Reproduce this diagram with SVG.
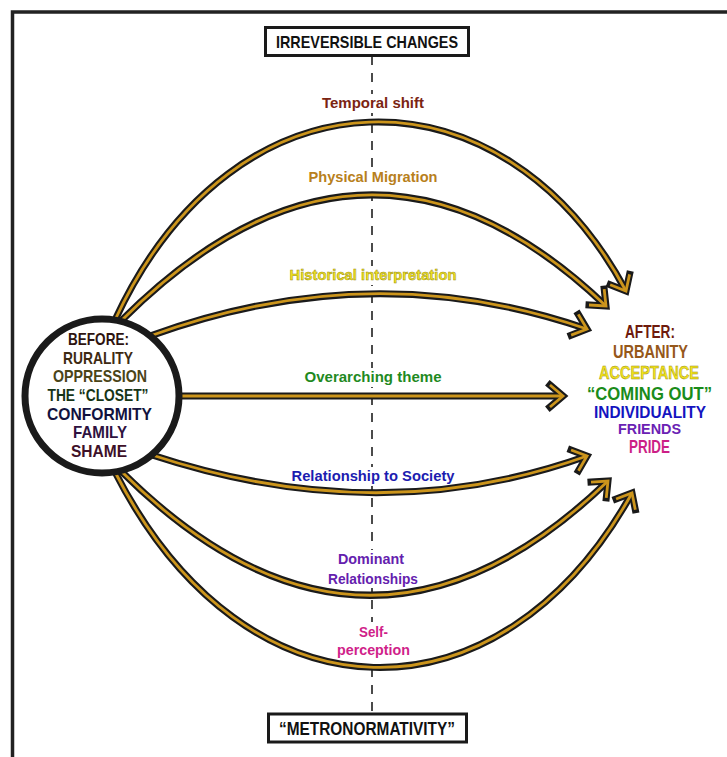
<svg xmlns="http://www.w3.org/2000/svg" width="727" height="757" viewBox="0 0 727 757">
<style>
.t{font-family:"Liberation Sans",Arial,sans-serif;font-weight:bold;text-anchor:middle}
.arcb{fill:none;stroke:#1a1a1a;stroke-width:7;marker-end:url(#ahb)}
.arcg{fill:none;stroke:#cc951c;stroke-width:2.8;marker-end:url(#ahg)}
.lab{font-size:15.5px}
.c{font-size:17px}
.box{fill:#fff;stroke:#1a1a1a;stroke-width:3}
</style>
<defs>
<marker id="ahb" markerUnits="userSpaceOnUse" markerWidth="40" markerHeight="40" viewBox="-20 -20 40 40" refX="0" refY="0" orient="auto" overflow="visible">
<path d="M-13,-11 L0,0 L-13,11" fill="none" stroke="#1a1a1a" stroke-width="7" stroke-linejoin="miter" stroke-linecap="square"/>
</marker>
<marker id="ahg" markerUnits="userSpaceOnUse" markerWidth="40" markerHeight="40" viewBox="-20 -20 40 40" refX="0" refY="0" orient="auto" overflow="visible">
<path d="M-13,-11 L0,0 L-13,11" fill="none" stroke="#cc951c" stroke-width="2.8" stroke-linejoin="miter" stroke-linecap="butt"/>
</marker>
</defs>
<rect width="727" height="757" fill="#fff"/>
<g id="frame" stroke="#222" stroke-width="3.5" fill="none">
<path d="M12.5,757 L12.5,12 L727,12"/>
</g>
<g id="connectors">
<path d="M372,56 L372,713" stroke="#111" stroke-width="1.5" stroke-dasharray="9 8" fill="none"/>
<g fill="#fff">
<rect x="320" y="94" width="106" height="19"/>
<rect x="306" y="168" width="134" height="19"/>
<rect x="288" y="266" width="170" height="19"/>
<rect x="302" y="368" width="142" height="19"/>
<rect x="290" y="467" width="166" height="19"/>
<rect x="326" y="550" width="94" height="38"/>
<rect x="334" y="622" width="80" height="38"/>
</g>
<path class="arcb" d="M115,320 C235,61 503,61 626,291"/>
<path class="arcg" d="M115,320 C235,61 503,61 626,291"/>
<path class="arcb" d="M122,320 Q366,77 606,306"/>
<path class="arcg" d="M122,320 Q366,77 606,306"/>
<path class="arcb" d="M150,336 Q372,255 587,329"/>
<path class="arcg" d="M150,336 Q372,255 587,329"/>
<path class="arcb" d="M170,396 L563,396"/>
<path class="arcg" d="M170,396 L563,396"/>
<path class="arcb" d="M152,455 Q380,530 587,456"/>
<path class="arcg" d="M152,455 Q380,530 587,456"/>
<path class="arcb" d="M122,472 Q366,714 608,481"/>
<path class="arcg" d="M122,472 Q366,714 608,481"/>
<path class="arcb" d="M115,472 C246,729 501,729 632,493"/>
<path class="arcg" d="M115,472 C246,729 501,729 632,493"/>
<g class="t lab">
<text x="373" y="108" fill="#7b2412" textLength="102" lengthAdjust="spacingAndGlyphs">Temporal shift</text>
<text x="373" y="182" fill="#b8801c" textLength="129" lengthAdjust="spacingAndGlyphs">Physical Migration</text>
<text x="373" y="280" fill="#efe31f" stroke="#9c8e10" stroke-width="0.5" textLength="167" lengthAdjust="spacingAndGlyphs">Historical interpretation</text>
<text x="373" y="382" fill="#1f8a1f" textLength="137" lengthAdjust="spacingAndGlyphs">Overarching theme</text>
<text x="373" y="481" fill="#1c1cb0" textLength="163" lengthAdjust="spacingAndGlyphs">Relationship to Society</text>
<text x="371" y="564" fill="#6420ae" textLength="66" lengthAdjust="spacingAndGlyphs">Dominant</text>
<text x="373" y="583.5" fill="#6420ae" textLength="90" lengthAdjust="spacingAndGlyphs">Relationships</text>
<text x="373.5" y="636.5" fill="#d01f8a" textLength="29" lengthAdjust="spacingAndGlyphs">Self-</text>
<text x="373.5" y="655" fill="#d01f8a" textLength="73" lengthAdjust="spacingAndGlyphs">perception</text>
</g>
</g>
<g id="irreversible">
<rect class="box" x="265.5" y="27.5" width="203" height="28"/>
<text class="t" x="367" y="47.5" font-size="17" fill="#111" textLength="182" lengthAdjust="spacingAndGlyphs">IRREVERSIBLE CHANGES</text>
</g>
<g id="metronormativity">
<rect class="box" x="268.5" y="714" width="198" height="28"/>
<text class="t" x="367" y="734.5" font-size="18" fill="#111" textLength="176" lengthAdjust="spacingAndGlyphs">“METRONORMATIVITY”</text>
</g>
<g id="before">
<circle cx="102" cy="396" r="77" fill="#fff" stroke="#1a1a1a" stroke-width="7"/>
<g class="t c">
<text x="98.5" y="344.5" fill="#2e1410" textLength="61" lengthAdjust="spacingAndGlyphs">BEFORE:</text>
<text x="98" y="363.5" fill="#3e2a12" textLength="70" lengthAdjust="spacingAndGlyphs">RURALITY</text>
<text x="100" y="381.5" fill="#4a4418" textLength="94" lengthAdjust="spacingAndGlyphs">OPPRESSION</text>
<text x="98" y="400.5" fill="#163416" textLength="101" lengthAdjust="spacingAndGlyphs">THE “CLOSET”</text>
<text x="99.5" y="419.5" fill="#12123e" textLength="105" lengthAdjust="spacingAndGlyphs">CONFORMITY</text>
<text x="100" y="437.5" fill="#2e1240" textLength="54" lengthAdjust="spacingAndGlyphs">FAMILY</text>
<text x="99" y="456.5" fill="#3e1028" textLength="56" lengthAdjust="spacingAndGlyphs">SHAME</text>
</g>
</g>
<g id="after" class="t">
<text x="650" y="337.5" font-size="18" fill="#6e1a0c" textLength="50" lengthAdjust="spacingAndGlyphs">AFTER:</text>
<text x="650.5" y="357.5" font-size="18" fill="#96581a" textLength="75" lengthAdjust="spacingAndGlyphs">URBANITY</text>
<text x="649" y="378.5" font-size="18" fill="#f2e41c" stroke="#9c8e10" stroke-width="0.5" textLength="100" lengthAdjust="spacingAndGlyphs">ACCEPTANCE</text>
<text x="649.5" y="399.5" font-size="18" fill="#1a8c1a" textLength="125" lengthAdjust="spacingAndGlyphs">“COMING OUT”</text>
<text x="650" y="417.5" font-size="16" fill="#1414c0" textLength="112" lengthAdjust="spacingAndGlyphs">INDIVIDUALITY</text>
<text x="649.5" y="433.5" font-size="15.5" fill="#6a22b4" textLength="63" lengthAdjust="spacingAndGlyphs">FRIENDS</text>
<text x="649.5" y="453" font-size="19" fill="#cc1f86" textLength="41" lengthAdjust="spacingAndGlyphs">PRIDE</text>
</g>
</svg>
